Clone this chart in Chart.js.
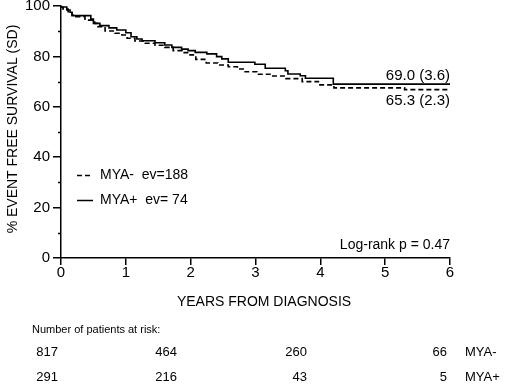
<!DOCTYPE html>
<html>
<head>
<meta charset="utf-8">
<script src="https://cdn.jsdelivr.net/npm/chart.js@4.4.0/dist/chart.umd.min.js"></script>
<style>
  html, body { margin: 0; padding: 0; background: #fff; }
  canvas { display: block; }
</style>
</head>
<body>
<canvas id="kmChart" width="520" height="386"></canvas>
<script>
// MYA+ (solid) - step times (years) and survival (%)
const plusTimes = [0, 0.09, 0.14, 0.17, 0.46, 0.50, 0.60, 0.74, 0.86, 1.00, 1.08, 1.17, 1.25, 1.45, 1.60, 1.71, 1.86, 1.96, 2.07, 2.25, 2.40, 2.48, 2.58, 2.99, 3.15, 3.46, 3.50, 3.69, 3.77, 4.20, 6.00];
const plusSurv = [99.6, 98.4, 97.5, 96.2, 94.8, 93.1, 92.2, 91.3, 90.5, 89.4, 87.8, 86.9, 86.2, 85.4, 84.5, 83.6, 82.9, 82.3, 81.6, 81.0, 79.9, 79.0, 77.7, 76.9, 75.3, 74.3, 73.0, 72.3, 71.3, 69.0, 69.0];

// MYA- (dashed)
const minusTimes = [0, 0.03, 0.11, 0.17, 0.23, 0.37, 0.52, 0.57, 0.68, 0.83, 0.94, 1.02, 1.14, 1.30, 1.45, 1.60, 1.73, 1.87, 1.99, 2.08, 2.24, 2.42, 2.58, 2.72, 2.84, 3.02, 3.24, 3.47, 3.72, 3.97, 4.21, 5.30, 6.00];
const minusSurv = [99.6, 98.8, 97.7, 96.4, 95.8, 94.4, 93.1, 91.8, 90.1, 89.2, 88.5, 87.2, 86.1, 85.2, 84.4, 83.6, 82.3, 81.5, 80.6, 78.8, 77.4, 76.6, 75.9, 75.0, 73.9, 72.9, 72.2, 71.2, 70.0, 68.7, 67.5, 66.8, 66.8];

const xTicks = [0, 1, 2, 3, 4, 5, 6];
const yTicks = [0, 20, 40, 60, 80, 100];
const yMinorTicks = [10, 30, 50, 70, 90];

const riskMinus = [817, 464, 260, 66];
const riskPlus = [291, 216, 43, 5];

const FONT = "'Liberation Sans', Arial, Helvetica, sans-serif";
Chart.defaults.font.family = FONT;
Chart.defaults.color = "#000";

const toPoints = (ts, ss) => ts.map((t, i) => ({ x: t, y: ss[i] }));

// extra text, legend, minor ticks and the at-risk table
const annotate = {
  id: "annotate",
  afterDraw(chart) {
    const ctx = chart.ctx;
    const ys = chart.scales.y;
    const left = chart.chartArea.left;
    const right = chart.chartArea.right;
    ctx.save();
    ctx.fillStyle = "#000";
    ctx.strokeStyle = "#000";

    // minor y ticks
    ctx.lineWidth = 1.5;
    yMinorTicks.forEach((v) => {
      const y = Math.round(ys.getPixelForValue(v)) + 0.5;
      ctx.beginPath();
      ctx.moveTo(left - 3, y);
      ctx.lineTo(left, y);
      ctx.stroke();
    });

    // y axis title
    ctx.save();
    ctx.translate(13, 129);
    ctx.rotate(-Math.PI / 2);
    ctx.font = "14px " + FONT;
    ctx.textAlign = "center";
    ctx.textBaseline = "middle";
    ctx.fillText("% EVENT FREE SURVIVAL (SD)", 0, 0);
    ctx.restore();

    // x axis title
    ctx.font = "14px " + FONT;
    ctx.textAlign = "center";
    ctx.textBaseline = "middle";
    ctx.fillText("YEARS FROM DIAGNOSIS", 264, 302);

    // legend
    ctx.lineWidth = 1.5;
    ctx.setLineDash([5, 3]);
    ctx.beginPath();
    ctx.moveTo(77, 175.5);
    ctx.lineTo(93, 175.5);
    ctx.stroke();
    ctx.setLineDash([]);
    ctx.beginPath();
    ctx.moveTo(77, 200.5);
    ctx.lineTo(93, 200.5);
    ctx.stroke();
    ctx.textAlign = "left";
    ctx.fillText("MYA-  ev=188", 100, 175);
    ctx.fillText("MYA+  ev= 74", 100, 200);

    // end-of-curve estimates and log-rank
    ctx.textAlign = "right";
    ctx.font = "15px " + FONT;
    ctx.fillText("69.0 (3.6)", right, 76);
    ctx.fillText("65.3 (2.3)", right, 101);
    ctx.font = "14px " + FONT;
    ctx.fillText("Log-rank p = 0.47", right, 245);

    // at-risk table
    ctx.font = "11px " + FONT;
    ctx.textAlign = "left";
    ctx.fillText("Number of patients at risk:", 32, 330);
    ctx.font = "13px " + FONT;
    const colRight = [58, 177, 307, 447];
    ctx.textAlign = "right";
    riskMinus.forEach((n, i) => ctx.fillText(String(n), colRight[i], 352));
    riskPlus.forEach((n, i) => ctx.fillText(String(n), colRight[i], 377));
    ctx.textAlign = "left";
    ctx.fillText("MYA-", 465, 352);
    ctx.fillText("MYA+", 465, 377);
    ctx.restore();
  },
};

new Chart(document.getElementById("kmChart").getContext("2d"), {
  type: "line",
  data: {
    datasets: [
      {
        label: "MYA-",
        data: toPoints(minusTimes, minusSurv),
        stepped: true,
        borderColor: "#000",
        borderWidth: 1.6,
        borderDash: [5, 3],
        pointRadius: 0,
        fill: false,
      },
      {
        label: "MYA+",
        data: toPoints(plusTimes, plusSurv),
        stepped: true,
        borderColor: "#000",
        borderWidth: 1.6,
        pointRadius: 0,
        fill: false,
      },
    ],
  },
  options: {
    responsive: false,
    animation: false,
    layout: { padding: { left: 0, right: 70, top: 6, bottom: 0 } },
    plugins: {
      legend: { display: false },
      tooltip: { enabled: false },
    },
    scales: {
      x: {
        type: "linear",
        min: 0,
        max: 6,
        afterBuildTicks: (s) => { s.ticks = xTicks.map((v) => ({ value: v })); },
        ticks: { font: { size: 15 }, color: "#000", padding: -1, maxRotation: 0 },
        grid: { drawOnChartArea: false, tickLength: 7, color: "#000", lineWidth: 1.5 },
        border: { color: "#000", width: 1.5 },
        afterFit: (s) => { s.height = 128; s.paddingLeft = 0; s.paddingRight = 0; },
      },
      y: {
        type: "linear",
        min: 0,
        max: 100,
        afterBuildTicks: (s) => { s.ticks = yTicks.map((v) => ({ value: v })); },
        ticks: { font: { size: 15 }, color: "#000", padding: 3 },
        grid: { drawOnChartArea: false, tickLength: 8, color: "#000", lineWidth: 1.5 },
        border: { color: "#000", width: 1.5 },
        afterFit: (s) => { s.width = 61; s.paddingTop = 0; s.paddingBottom = 0; },
      },
    },
  },
  plugins: [annotate],
});
</script>
</body>
</html>
